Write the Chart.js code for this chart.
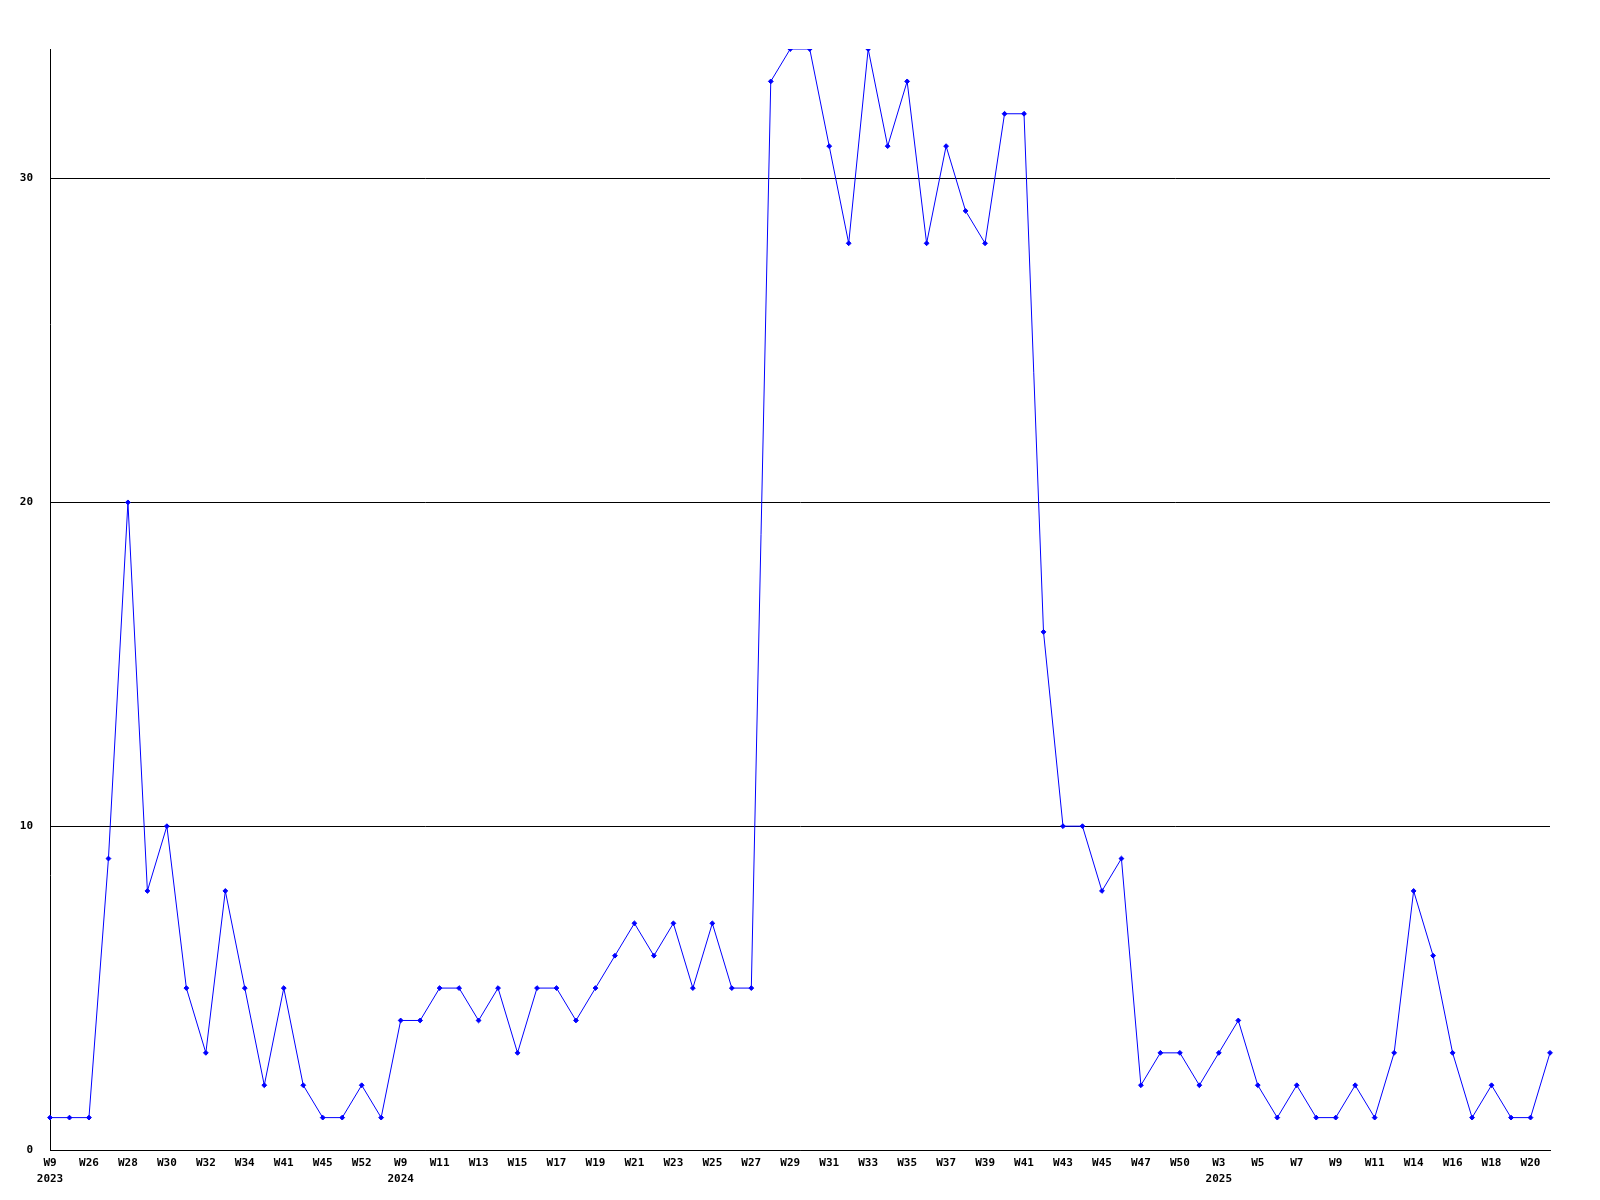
<!DOCTYPE html>
<html>
<head>
<meta charset="utf-8">
<script src="https://cdn.jsdelivr.net/npm/chart.js@4/dist/chart.umd.min.js"></script>
<style>
  body { margin: 0; background: #fff; }
</style>
</head>
<body>
<canvas id="myChart" width="1600" height="1200"></canvas>
<script>
'use strict';
// week of each point (only every other one gets a label)
let weeks = [
  'W9', 'W25', 'W26', 'W27', 'W28', 'W29', 'W30', 'W31', 'W32', 'W33',
  'W34', 'W40', 'W41', 'W43', 'W45', 'W46', 'W52', 'W1', 'W9', 'W10',
  'W11', 'W12', 'W13', 'W14', 'W15', 'W16', 'W17', 'W18', 'W19', 'W20',
  'W21', 'W22', 'W23', 'W24', 'W25', 'W26', 'W27', 'W28', 'W29', 'W30',
  'W31', 'W32', 'W33', 'W34', 'W35', 'W36', 'W37', 'W38', 'W39', 'W40',
  'W41', 'W42', 'W43', 'W44', 'W45', 'W46', 'W47', 'W48', 'W50', 'W2',
  'W3', 'W4', 'W5', 'W6', 'W7', 'W8', 'W9', 'W10', 'W11', 'W13',
  'W14', 'W15', 'W16', 'W17', 'W18', 'W19', 'W20', 'W21'];
let yearAt = [0, 18, 60];
let yearText = ['2023', '2024', '2025'];

let counts = [
  1, 1, 1, 9, 20, 8, 10, 5, 3, 8,
  5, 2, 5, 2, 1, 1, 2, 1, 4, 4,
  5, 5, 4, 5, 3, 5, 5, 4, 5, 6,
  7, 6, 7, 5, 7, 5, 5, 33, 34, 34,
  31, 28, 34, 31, 33, 28, 31, 29, 28, 32,
  32, 16, 10, 10, 8, 9, 2, 3, 3, 2,
  3, 4, 2, 1, 2, 1, 1, 2, 1, 3,
  8, 6, 3, 1, 2, 1, 1, 3];

let yTicks = [0, 10, 20, 30];
let yMax = 34;

let fontMono = { family: "'DejaVu Sans Mono', 'Liberation Mono', monospace", size: 11, weight: 'bold', lineHeight: 1.45 };

let ctx = document.getElementById('myChart').getContext('2d');

let myChart = new Chart(ctx, {
  type: 'line',
  data: {
    labels: weeks,
    datasets: [{
      data: counts,
      borderColor: '#0000ff',
      backgroundColor: '#0000ff',
      borderWidth: 1,
      tension: 0,
      pointStyle: 'rectRot',
      pointRadius: 2.4,
      pointBorderWidth: 1
    }]
  },
  options: {
    responsive: false,
    animation: false,
    layout: { padding: { left: 0, top: 49, right: 50, bottom: 0 } },
    plugins: { legend: { display: false }, tooltip: { enabled: false } },
    scales: {
      x: {
        offset: false,
        grid: { display: false },
        border: { display: true, color: '#000', width: 1 },
        ticks: {
          autoSkip: false,
          maxRotation: 0,
          padding: -3,
          color: '#000',
          font: fontMono,
          callback: function (val, i) {
            if (i % 2 === 1) { return ''; }
            let y = yearAt.indexOf(i);
            if (y >= 0) { return [weeks[i], yearText[y]]; }
            return weeks[i];
          }
        },
        afterFit: function (scale) { scale.height = 50; }
      },
      y: {
        min: 0,
        max: yMax,
        grid: { color: '#000', lineWidth: 1, drawTicks: false },
        border: { display: true, color: '#000', width: 1 },
        ticks: { padding: 17, color: '#000', font: fontMono },
        afterBuildTicks: function (scale) {
          scale.ticks = yTicks.map(function (v) { return { value: v }; });
        },
        afterFit: function (scale) { scale.width = 50; }
      }
    }
  }
});
</script>
</body>
</html>
